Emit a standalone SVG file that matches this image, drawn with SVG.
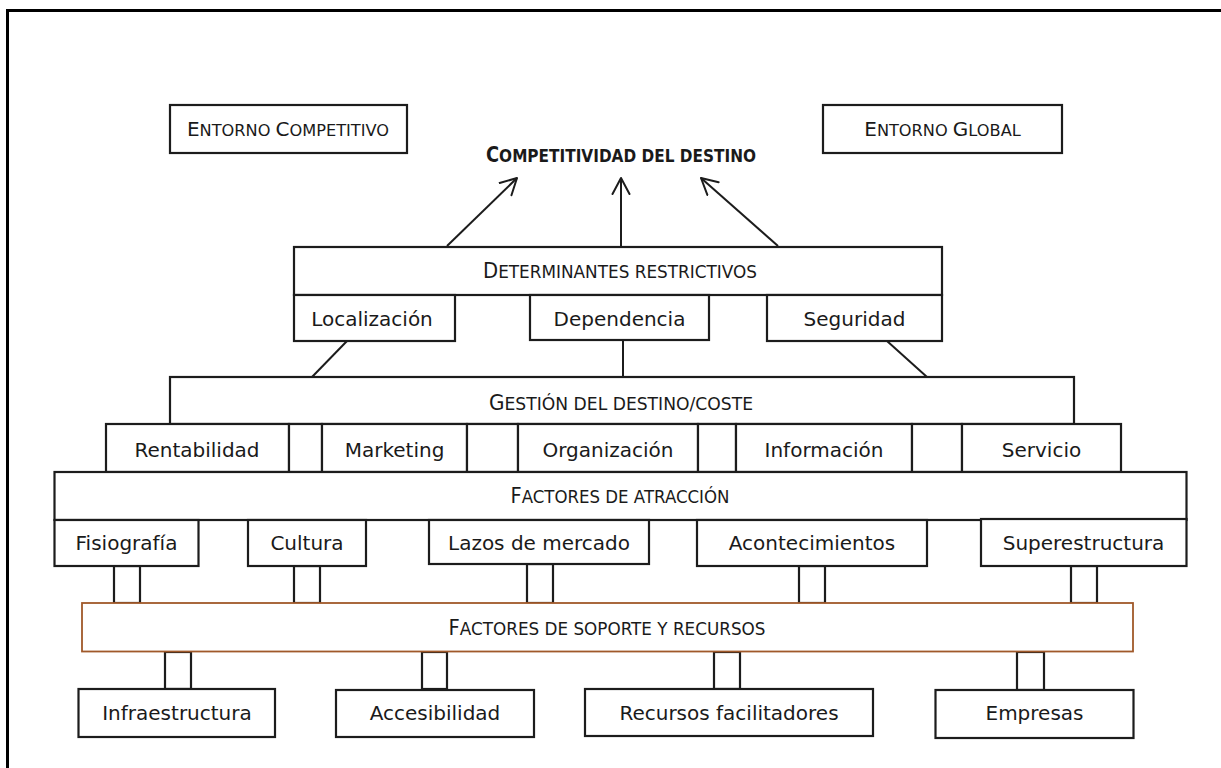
<svg xmlns="http://www.w3.org/2000/svg" width="1221" height="768" viewBox="0 0 1221 768">
<style>
  .box { fill: #ffffff; stroke: #1c1c1c; stroke-width: 2.2; }
  .sup { fill: #ffffff; stroke: #a0592a; stroke-width: 1.8; }
  .lbl { font-family: "DejaVu Sans", "Liberation Sans", sans-serif; font-size: 20px; fill: #1a1a1a; text-anchor: middle; }
  .sc { font-family: "DejaVu Sans", "Liberation Sans", sans-serif; fill: #1a1a1a; text-anchor: middle; }
  .big { font-size: 21px; }
  .sm { font-size: 18px; }
  .big2 { font-size: 20px; }
  .sm2 { font-size: 16.2px; }
  .bold { font-weight: bold; }
  .line { stroke: #1c1c1c; stroke-width: 2; fill: none; }
  .pillar { fill: #ffffff; stroke: #1c1c1c; stroke-width: 2.2; }
</style>
<defs>
  <marker id="arrow" markerUnits="userSpaceOnUse" markerWidth="20" markerHeight="20" viewBox="0 0 20 20" refX="17" refY="10" orient="auto">
    <path d="M1,1.5 L17,10 L1,18.5" fill="none" stroke="#1c1c1c" stroke-width="2" stroke-linejoin="round" stroke-linecap="round"/>
  </marker>
</defs>
<rect x="0" y="0" width="1221" height="768" fill="#ffffff"/>
<path d="M7.5,770 V10.5 H1225" fill="none" stroke="#000000" stroke-width="3"/>

<g id="connectors">
  <line class="line" x1="447" y1="246" x2="517" y2="178" marker-end="url(#arrow)"/>
  <line class="line" x1="621" y1="246" x2="621" y2="178" marker-end="url(#arrow)"/>
  <line class="line" x1="778" y1="246" x2="701" y2="178" marker-end="url(#arrow)"/>
  <line class="line" x1="347" y1="341" x2="312" y2="377"/>
  <line class="line" x1="623" y1="340" x2="623" y2="377"/>
  <line class="line" x1="887" y1="341" x2="927" y2="377"/>
  <rect class="pillar" x="114" y="566" width="26" height="37"/>
  <rect class="pillar" x="294" y="566" width="26" height="37"/>
  <rect class="pillar" x="527" y="564" width="26" height="39"/>
  <rect class="pillar" x="799" y="566" width="26" height="37"/>
  <rect class="pillar" x="1071" y="566" width="26" height="37"/>
  <rect class="pillar" x="165" y="652" width="26" height="37"/>
  <rect class="pillar" x="422" y="652" width="25" height="37"/>
  <rect class="pillar" x="714" y="652" width="26" height="37"/>
  <rect class="pillar" x="1017" y="652" width="27" height="38"/>
</g>

<g id="entorno-competitivo">
  <rect class="box" x="170" y="105" width="237" height="48"/>
  <text class="sc" x="288" y="136"><tspan class="big2">E</tspan><tspan class="sm2">NTORNO </tspan><tspan class="big2">C</tspan><tspan class="sm2">OMPETITIVO</tspan></text>
</g>

<g id="entorno-global">
  <rect class="box" x="823" y="105" width="239" height="48"/>
  <text class="sc" x="942.5" y="136"><tspan class="big2">E</tspan><tspan class="sm2">NTORNO </tspan><tspan class="big2">G</tspan><tspan class="sm2">LOBAL</tspan></text>
</g>

<g id="competitividad">
  <text class="sc bold" x="621" y="162" textLength="270" lengthAdjust="spacingAndGlyphs"><tspan class="big">C</tspan><tspan class="sm">OMPETITIVIDAD DEL DESTINO</tspan></text>
</g>

<g id="determinantes">
  <rect class="box" x="294" y="247" width="648" height="48"/>
  <text class="sc" x="620" y="278" textLength="274" lengthAdjust="spacingAndGlyphs"><tspan class="big">D</tspan><tspan class="sm">ETERMINANTES RESTRICTIVOS</tspan></text>
</g>
<g id="localizacion">
  <rect class="box" x="294" y="295" width="161" height="46"/>
  <text class="lbl" x="372" y="326">Localización</text>
</g>
<g id="dependencia">
  <rect class="box" x="530" y="295" width="179" height="45"/>
  <text class="lbl" x="619.5" y="326">Dependencia</text>
</g>
<g id="seguridad">
  <rect class="box" x="767" y="295" width="175" height="46"/>
  <text class="lbl" x="854.5" y="326">Seguridad</text>
</g>

<g id="gestion">
  <rect class="box" x="170" y="377" width="904" height="47"/>
  <text class="sc" x="621" y="410" textLength="264" lengthAdjust="spacingAndGlyphs"><tspan class="big">G</tspan><tspan class="sm">ESTIÓN DEL DESTINO/COSTE</tspan></text>
</g>
<g id="rentabilidad">
  <rect class="box" x="106" y="424" width="183" height="48"/>
  <text class="lbl" x="197" y="457">Rentabilidad</text>
</g>
<g id="gap-1"><rect class="box" x="289" y="424" width="33" height="48"/></g>
<g id="marketing">
  <rect class="box" x="322" y="424" width="145" height="48"/>
  <text class="lbl" x="394.5" y="457">Marketing</text>
</g>
<g id="gap-2"><rect class="box" x="467" y="424" width="51" height="48"/></g>
<g id="organizacion">
  <rect class="box" x="518" y="424" width="180" height="48"/>
  <text class="lbl" x="608" y="457">Organización</text>
</g>
<g id="gap-3"><rect class="box" x="698" y="424" width="38" height="48"/></g>
<g id="informacion">
  <rect class="box" x="736" y="424" width="176" height="48"/>
  <text class="lbl" x="824" y="457">Información</text>
</g>
<g id="gap-4"><rect class="box" x="912" y="424" width="50" height="48"/></g>
<g id="servicio">
  <rect class="box" x="962" y="424" width="159" height="48"/>
  <text class="lbl" x="1041.5" y="457">Servicio</text>
</g>

<g id="factores-atraccion">
  <rect class="box" x="54.5" y="472" width="1132" height="48"/>
  <text class="sc" x="620" y="503" textLength="219" lengthAdjust="spacingAndGlyphs"><tspan class="big">F</tspan><tspan class="sm">ACTORES DE ATRACCIÓN</tspan></text>
</g>
<g id="fisiografia">
  <rect class="box" x="54.5" y="520" width="144" height="46"/>
  <text class="lbl" x="126.5" y="550">Fisiografía</text>
</g>
<g id="cultura">
  <rect class="box" x="248" y="520" width="118" height="46"/>
  <text class="lbl" x="307" y="550">Cultura</text>
</g>
<g id="lazos">
  <rect class="box" x="429" y="520" width="220" height="44"/>
  <text class="lbl" x="539" y="550">Lazos de mercado</text>
</g>
<g id="acontecimientos">
  <rect class="box" x="697" y="520" width="230" height="46"/>
  <text class="lbl" x="812" y="550">Acontecimientos</text>
</g>
<g id="superestructura">
  <rect class="box" x="981" y="519" width="205.5" height="47"/>
  <text class="lbl" x="1083.5" y="550">Superestructura</text>
</g>

<g id="factores-soporte">
  <rect class="sup" x="82" y="603" width="1051" height="48.5"/>
  <text class="sc" x="607" y="635" textLength="317" lengthAdjust="spacingAndGlyphs"><tspan class="big">F</tspan><tspan class="sm">ACTORES DE SOPORTE Y RECURSOS</tspan></text>
</g>

<g id="infraestructura">
  <rect class="box" x="78.5" y="689" width="196.5" height="48"/>
  <text class="lbl" x="177" y="720">Infraestructura</text>
</g>
<g id="accesibilidad">
  <rect class="box" x="336" y="690" width="198" height="47"/>
  <text class="lbl" x="435" y="720">Accesibilidad</text>
</g>
<g id="recursos">
  <rect class="box" x="585" y="689" width="288" height="47"/>
  <text class="lbl" x="729" y="720">Recursos facilitadores</text>
</g>
<g id="empresas">
  <rect class="box" x="935.5" y="690" width="198" height="48"/>
  <text class="lbl" x="1034.5" y="720">Empresas</text>
</g>
</svg>
